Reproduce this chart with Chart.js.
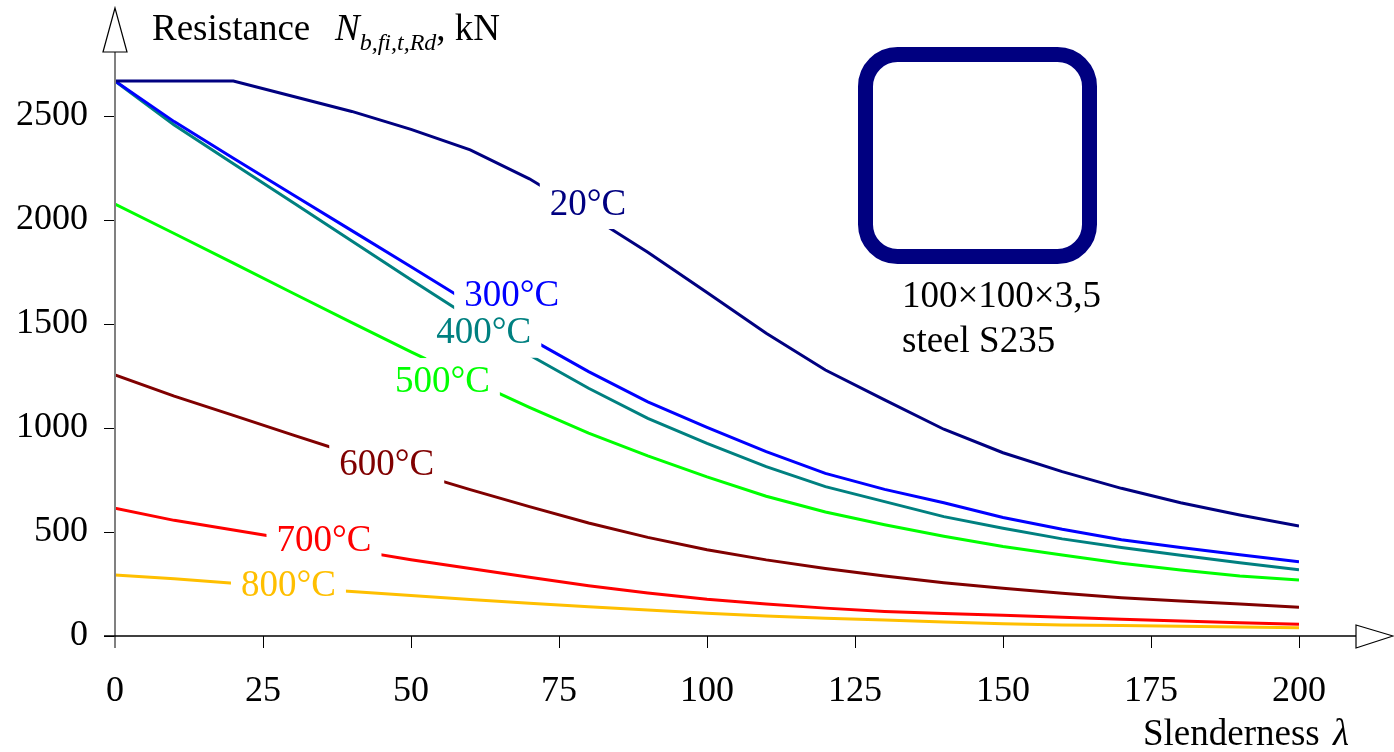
<!DOCTYPE html>
<html>
<head>
<meta charset="utf-8">
<script src="https://cdn.jsdelivr.net/npm/chart.js@4.4.1/dist/chart.umd.min.js"></script>
<style>
  html, body { margin: 0; padding: 0; background: #fff; }
  canvas { display: block; }
</style>
</head>
<body>
<canvas id="chart" width="1394" height="752"></canvas>
<script>
// slenderness values (x)
const lambda = [0, 10, 20, 30, 40, 50, 60, 70, 80, 90, 100, 110, 120, 130, 140, 150, 160, 170, 180, 190, 200];

// resistance N_b,fi,t,Rd in kN for each temperature
const r20  = [2668, 2668, 2668, 2595, 2522, 2436, 2337, 2198, 2025, 1845, 1651, 1455, 1279, 1135, 994, 881, 790, 710, 641, 582, 529];
const r300 = [2668, 2473, 2297, 2123, 1949, 1775, 1600, 1431, 1271, 1126, 1003, 886, 782, 705, 641, 570, 513, 463, 425, 391, 357];
const r400 = [2668, 2457, 2271, 2085, 1899, 1713, 1530, 1351, 1191, 1046, 926, 814, 718, 646, 574, 518, 467, 425, 388, 352, 319];
const r500 = [2077, 1935, 1793, 1649, 1507, 1366, 1230, 1099, 975, 866, 765, 672, 596, 535, 480, 430, 389, 350, 317, 288, 269];
const r600 = [1255, 1153, 1061, 967, 875, 789, 704, 622, 543, 474, 415, 366, 325, 288, 256, 229, 205, 184, 168, 154, 138];
const r700 = [614, 556, 510, 463, 414, 367, 324, 282, 242, 207, 177, 154, 134, 118, 108, 100, 90, 80, 72, 64, 56];
const r800 = [293, 275, 254, 233, 214, 195, 176, 157, 141, 125, 109, 96, 85, 77, 67, 59, 53, 50, 47, 43, 40];

const xTicks = [0, 25, 50, 75, 100, 125, 150, 175, 200];
const yTicks = [0, 500, 1000, 1500, 2000, 2500];

// curve labels placed on the curves (lambda, kN)
const curveLabels = ["20°C", "300°C", "400°C", "500°C", "600°C", "700°C", "800°C"];
const labelX = [79.9, 67.0, 62.3, 55.3, 45.9, 35.3, 29.3];
const labelY = [2072, 1635, 1453, 1221, 820, 455, 239];

const colors = ["#000080", "#0000ff", "#008080", "#00ff00", "#800000", "#ff0000", "#ffbf00"];
const series = [r20, r300, r400, r500, r600, r700, r800];

const SERIF = "'Liberation Serif', 'Times New Roman', serif";

function roundRectPath(ctx, x, y, w, h, r) {
  ctx.beginPath();
  ctx.moveTo(x + r, y);
  ctx.arcTo(x + w, y, x + w, y + h, r);
  ctx.arcTo(x + w, y + h, x, y + h, r);
  ctx.arcTo(x, y + h, x, y, r);
  ctx.arcTo(x, y, x + w, y, r);
  ctx.closePath();
}

// labels sitting on the curves, with a white box that breaks the line
const curveLabelPlugin = {
  id: "curveLabels",
  afterDatasetsDraw(chart) {
    const ctx = chart.ctx;
    const xs = chart.scales.x, ys = chart.scales.y;
    ctx.save();
    ctx.font = "37px " + SERIF;
    ctx.textAlign = "center";
    ctx.textBaseline = "middle";
    curveLabels.forEach((txt, i) => {
      const px = xs.getPixelForValue(labelX[i]);
      const py = ys.getPixelForValue(labelY[i]);
      const w = ctx.measureText(txt).width;
      ctx.fillStyle = "#fff";
      ctx.fillRect(px - w / 2 - 10, py - 24, w + 20, 48);
      ctx.fillStyle = colors[i];
      ctx.fillText(txt, px, py);
    });
    ctx.restore();
  }
};

// axis lines with arrow heads, axis titles and the section sketch
const decorPlugin = {
  id: "decor",
  afterDraw(chart) {
    const ctx = chart.ctx;
    const x0 = chart.scales.x.getPixelForValue(0);
    const y0 = chart.scales.y.getPixelForValue(0);
    ctx.save();

    // y axis
    ctx.strokeStyle = "#808080";
    ctx.lineWidth = 2;
    ctx.beginPath();
    ctx.moveTo(x0, y0 + 12);
    ctx.lineTo(x0, 52);
    ctx.stroke();
    // x axis
    ctx.strokeStyle = "#000";
    ctx.lineWidth = 1.5;
    ctx.beginPath();
    ctx.moveTo(x0 - 11, y0);
    ctx.lineTo(1356, y0);
    ctx.stroke();

    // arrow heads
    ctx.lineWidth = 1.2;
    ctx.fillStyle = "#fff";
    ctx.beginPath();
    ctx.moveTo(x0, 8);
    ctx.lineTo(x0 - 12, 52);
    ctx.lineTo(x0 + 12, 52);
    ctx.closePath();
    ctx.fill();
    ctx.stroke();
    ctx.beginPath();
    ctx.moveTo(1356, y0 - 11);
    ctx.lineTo(1393, y0);
    ctx.lineTo(1356, y0 + 12);
    ctx.closePath();
    ctx.fill();
    ctx.stroke();

    // y title
    ctx.fillStyle = "#000";
    ctx.textBaseline = "alphabetic";
    ctx.textAlign = "left";
    ctx.font = "37px " + SERIF;
    ctx.fillText("Resistance", 152, 40);
    ctx.font = "italic 37px " + SERIF;
    ctx.fillText("N", 335, 40);
    let xp = 335 + ctx.measureText("N").width;
    ctx.font = "italic 24px " + SERIF;
    ctx.fillText("b,fi,t,Rd", xp, 50);
    xp += ctx.measureText("b,fi,t,Rd").width;
    ctx.font = "37px " + SERIF;
    ctx.fillText(", kN", xp, 40);

    // x title
    ctx.fillText("Slenderness", 1143, 745);
    ctx.font = "italic 37px " + SERIF;
    ctx.fillText("λ", 1333, 745);

    // hollow section sketch
    ctx.strokeStyle = "#000080";
    ctx.lineWidth = 15;
    roundRectPath(ctx, 865.5, 54.5, 224, 202, 32);
    ctx.stroke();
    ctx.fillStyle = "#000";
    ctx.font = "37px " + SERIF;
    ctx.fillText("100×100×3,5", 902, 307);
    ctx.fillText("steel S235", 902, 352);

    ctx.restore();
  }
};

const datasets = series.map((s, i) => ({
  label: curveLabels[i],
  data: lambda.map((l, k) => ({ x: l, y: s[k] })),
  borderColor: colors[i],
  backgroundColor: colors[i],
  borderWidth: 3,
  pointRadius: 0,
  tension: 0,
  fill: false
}));

new Chart(document.getElementById("chart"), {
  type: "line",
  data: { datasets: datasets },
  options: {
    responsive: false,
    devicePixelRatio: 1,
    animation: false,
    events: [],
    layout: { padding: { top: 64, right: 95, left: 0, bottom: 0 } },
    plugins: { legend: { display: false }, tooltip: { enabled: false } },
    scales: {
      x: {
        type: "linear",
        min: 0,
        max: 200,
        afterBuildTicks: s => { s.ticks = xTicks.map(v => ({ value: v })); },
        afterFit: s => { s.height = 116; },
        grid: { display: true, drawOnChartArea: false, drawTicks: true, tickLength: 12, color: "#000", lineWidth: 1 },
        border: { display: false },
        ticks: { padding: 22, maxRotation: 0, color: "#000", font: { family: SERIF, size: 36 }, callback: v => String(v) }
      },
      y: {
        type: "linear",
        min: 0,
        max: 2750,
        afterBuildTicks: s => { s.ticks = yTicks.map(v => ({ value: v })); },
        afterFit: s => { s.width = 115; },
        grid: { display: true, drawOnChartArea: false, drawTicks: true, tickLength: 11, color: "#000", lineWidth: 1 },
        border: { display: false },
        ticks: { padding: 16, color: "#000", font: { family: SERIF, size: 36 }, callback: v => String(v) }
      }
    }
  },
  plugins: [curveLabelPlugin, decorPlugin]
});
</script>
</body>
</html>
